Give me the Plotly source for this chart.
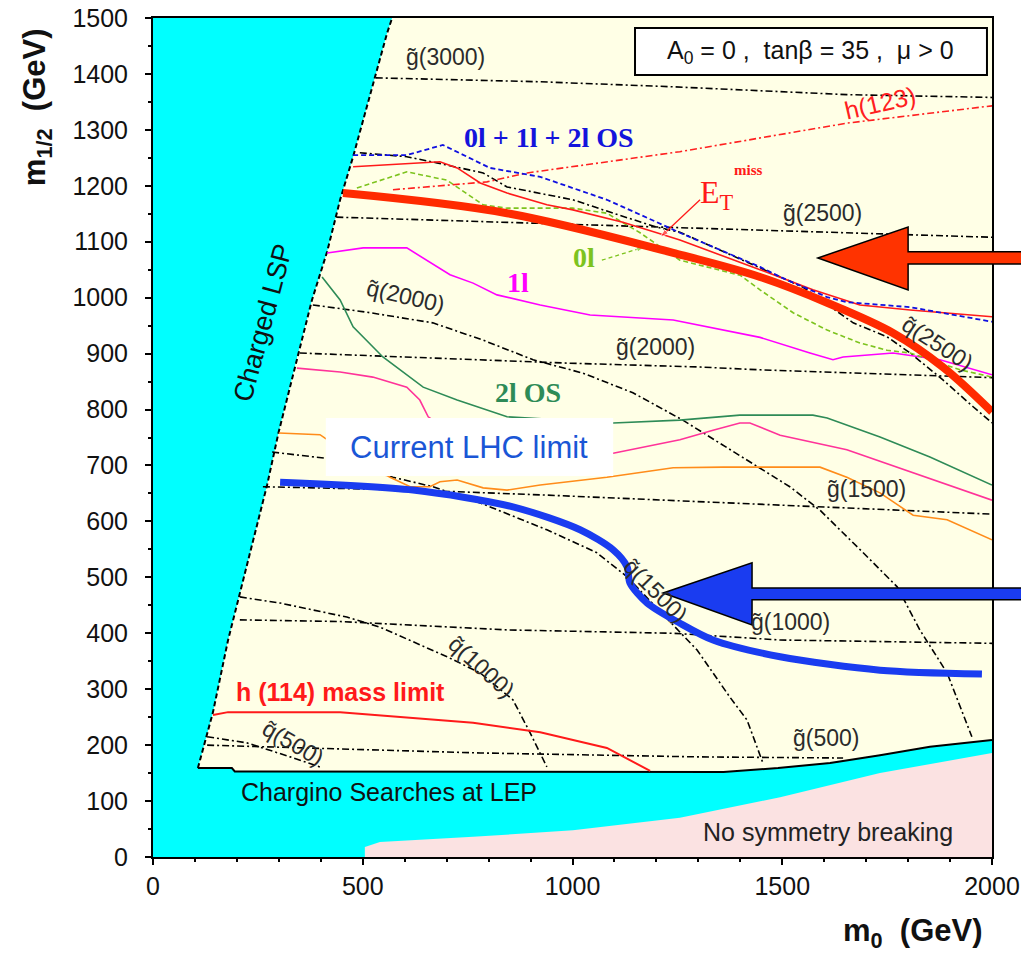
import plotly.graph_objects as go

X_RANGE = [0, 2000]
Y_RANGE = [0, 1500]

# ---- excluded regions -------------------------------------------------
lsp_m0 = [107, 143, 179, 205, 272, 299, 346, 379, 415, 446, 477, 558, 570]
lsp_m12 = [159, 259, 388, 465, 665, 758, 901, 996, 1082, 1175, 1252, 1473, 1500]
lep_m0 = [107, 188, 195, 1000, 1360, 1490, 1614, 1733, 1852, 2000]
lep_m12 = [159, 159, 153, 152, 152, 159, 168, 182, 197, 209]
nosym_m0 = [505, 505, 541, 763, 1001, 1256, 1495, 1733, 2000, 2000]
nosym_m12 = [0, 18, 27, 36, 48, 70, 107, 150, 186, 0]

# ---- sparticle iso-mass contours (GeV) ---------------------------------
g3000_m0 = [531, 922, 1240, 1654, 2000]
g3000_m12 = [1393, 1386, 1377, 1363, 1358]
g2500_m0 = [437, 1240, 1447, 2000]
g2500_m12 = [1144, 1126, 1121, 1108]
g2000_m0 = [350, 667, 987, 1304, 1447, 2000]
g2000_m12 = [901, 892, 883, 876, 871, 857]
g1500_m0 = [262, 620, 939, 1297, 1654, 2000]
g1500_m12 = [662, 656, 647, 635, 624, 613]
g1000_m0 = [207, 446, 844, 1240, 1495, 2000]
g1000_m12 = [424, 421, 406, 400, 388, 382]
g500_m0 = [129, 381, 780, 1297, 1645]
g500_m12 = [200, 195, 186, 179, 177]

q2500_m0 = [493, 605, 677, 787, 844, 1001, 1097, 1201, 1256, 1495, 1549, 1669, 1750, 1805, 1883, 1955, 2000]
q2500_m12 = [1259, 1252, 1241, 1223, 1198, 1175, 1151, 1126, 1117, 1037, 1019, 955, 930, 901, 853, 805, 776]
q2000_m0 = [381, 510, 667, 787, 906, 1025, 1144, 1263, 1518, 1590, 1693, 1774, 1828, 1893, 1952]
q2000_m12 = [987, 974, 955, 924, 889, 865, 830, 781, 662, 620, 544, 483, 406, 329, 215]
q1500_m0 = [284, 410, 572, 667, 780, 939, 1058, 1130, 1297, 1335, 1375, 1416, 1454]
q1500_m12 = [724, 713, 679, 662, 633, 585, 544, 501, 370, 329, 286, 245, 168]
q1000_m0 = [207, 303, 462, 541, 701, 780, 858, 899, 939]
q1000_m12 = [465, 454, 429, 411, 358, 329, 281, 222, 161]
q500_m0 = [129, 224, 327, 398]
q500_m12 = [215, 204, 179, 161]

# ---- search reach curves ------------------------------------------------
met_m0 = [477, 629, 684, 725, 780, 844, 939, 1001, 1120, 1201, 1256, 1447, 1573, 1685, 1805, 2000]
met_m12 = [1234, 1241, 1243, 1232, 1205, 1187, 1166, 1157, 1135, 1116, 1103, 1050, 1014, 987, 978, 966]
comb_m0 = [477, 605, 691, 803, 923, 1082, 1201, 1256, 1447, 1495, 1607, 1654, 1805, 2000]
comb_m12 = [1255, 1255, 1273, 1232, 1216, 1175, 1135, 1116, 1055, 1037, 1001, 992, 983, 957]
h123_m0 = [572, 796, 892, 1256, 1654, 2000]
h123_m12 = [1193, 1207, 1223, 1261, 1312, 1343]
zl_m0 = [486, 605, 701, 787, 844, 1001, 1082, 1161, 1256, 1400, 1447, 1526, 1607, 1685, 1750, 1805, 1924, 2000]
zl_m12 = [1196, 1225, 1210, 1166, 1160, 1160, 1151, 1116, 1067, 1040, 1014, 973, 942, 919, 906, 901, 871, 858]
ol_m0 = [415, 501, 605, 653, 708, 763, 820, 923, 1042, 1240, 1447, 1566, 1621, 1645, 1764, 1876, 2000]
ol_m12 = [1080, 1089, 1089, 1067, 1041, 1026, 1005, 987, 969, 960, 929, 901, 889, 894, 901, 889, 862]
os_m0 = [403, 446, 477, 548, 644, 725, 844, 1097, 1256, 1399, 1573, 1607, 1733, 1852, 2000]
os_m12 = [1037, 996, 948, 894, 840, 817, 787, 776, 781, 790, 790, 785, 751, 715, 665]
pink_m0 = [343, 446, 524, 605, 636, 656, 756, 923, 1097, 1256, 1335, 1399, 1423, 1495, 1654, 1812, 2000]
pink_m12 = [874, 867, 858, 840, 817, 787, 737, 713, 722, 746, 763, 776, 776, 754, 728, 687, 638]
orange_m0 = [300, 398, 410, 493, 565, 613, 660, 684, 725, 787, 844, 923, 1082, 1240, 1359, 1590, 1654, 1733, 1812, 1893, 2000]
orange_m12 = [758, 755, 749, 710, 679, 662, 662, 671, 674, 660, 656, 665, 679, 696, 697, 697, 679, 651, 611, 603, 567]
h114_m0 = [143, 179, 446, 605, 763, 923, 1082, 1185]
h114_m12 = [254, 259, 259, 250, 240, 223, 195, 154]

# ---- highlighted limits ---------------------------------------------------
proj_m0 = [453, 844, 1240, 1447, 1607, 1764, 1883, 2000]
proj_m12 = [1187, 1151, 1080, 1037, 991, 937, 876, 796]
lhc_m0 = [303, 620, 858, 1018, 1097, 1130, 1137, 1178, 1256, 1335, 1495, 1733, 1976]
lhc_m12 = [670, 656, 626, 585, 549, 519, 490, 454, 418, 388, 358, 334, 327]

# label pointers (from label to curve)
met_ptr_m0 = [1304, 1209]
met_ptr_m12 = [1175, 1108]
zl_ptr_m0 = [1070, 1173]
zl_ptr_m12 = [1067, 1091]

CYAN = "#00ffff"
PINK_BG = "#fbe2e2"
ALLOWED = "#ffffe6"
DASHDOT = "7px,3px,2px,3px"
LABEL_GREY = "#2b2b2b"
SANS = "Liberation Sans, Arial, sans-serif"
SERIF = "Liberation Serif, Times New Roman, serif"

fig = go.Figure()

# cyan: charged LSP wedge plus LEP chargino band
cyan_x = [0, 0] + lsp_m0[::-1] + lep_m0[1:] + [2000, 0]
cyan_y = [0, 1500] + lsp_m12[::-1] + lep_m12[1:] + [0, 0]
fig.add_trace(go.Scatter(x=cyan_x, y=cyan_y, fill="toself", fillcolor=CYAN,
                         line=dict(width=0), mode="lines", hoverinfo="skip"))
fig.add_trace(go.Scatter(x=nosym_m0, y=nosym_m12, fill="toself", fillcolor=PINK_BG,
                         line=dict(width=0), mode="lines", hoverinfo="skip"))
fig.add_trace(go.Scatter(x=lsp_m0, y=lsp_m12, mode="lines",
                         line=dict(color="black", width=2, dash="5px,3px")))
fig.add_trace(go.Scatter(x=lep_m0, y=lep_m12, mode="lines",
                         line=dict(color="black", width=2)))


def contour(xs, ys):
    fig.add_trace(go.Scatter(x=xs, y=ys, mode="lines",
                             line=dict(color="black", width=1.6, dash=DASHDOT)))


for xs, ys in [(g3000_m0, g3000_m12), (g2500_m0, g2500_m12), (g2000_m0, g2000_m12),
               (g1500_m0, g1500_m12), (g1000_m0, g1000_m12), (g500_m0, g500_m12),
               (q2500_m0, q2500_m12), (q2000_m0, q2000_m12), (q1500_m0, q1500_m12),
               (q1000_m0, q1000_m12), (q500_m0, q500_m12)]:
    contour(xs, ys)


def reach(xs, ys, color, dash="solid", width=1.6):
    fig.add_trace(go.Scatter(x=xs, y=ys, mode="lines",
                             line=dict(color=color, width=width, dash=dash)))


reach(h114_m0, h114_m12, "#ff1a1a", width=2)
reach(orange_m0, orange_m12, "#ff8c1a")
reach(pink_m0, pink_m12, "#ff3399")
reach(os_m0, os_m12, "#2e8b57")
reach(ol_m0, ol_m12, "#ff00ff")
reach(zl_m0, zl_m12, "#7dc31e", dash="5px,3px")
reach(h123_m0, h123_m12, "#ff2020", dash=DASHDOT)
reach(met_m0, met_m12, "#ff1a1a")
reach(comb_m0, comb_m12, "#1010e0", dash="5px,3px", width=1.8)


def pointer(xs, ys, color, dash="solid"):
    fig.add_trace(go.Scatter(x=xs, y=ys, mode="lines+markers",
                             line=dict(color=color, width=1.3, dash=dash),
                             marker=dict(symbol="arrow", angleref="previous",
                                         size=[0, 9], color=color)))


pointer(met_ptr_m0, met_ptr_m12, "#ff1a1a")
pointer(zl_ptr_m0, zl_ptr_m12, "#7dc31e", dash="4px,3px")

fig.add_trace(go.Scatter(x=proj_m0, y=proj_m12, mode="lines", line_shape="spline",
                         line=dict(color="#ff2a00", width=8, smoothing=1.0)))
fig.add_trace(go.Scatter(x=lhc_m0, y=lhc_m12, mode="lines", line_shape="spline",
                         line=dict(color="#1a3cf0", width=7, smoothing=0.8)))


def paper(m0, m12):
    return ((m0 - X_RANGE[0]) / (X_RANGE[1] - X_RANGE[0]),
            (m12 - Y_RANGE[0]) / (Y_RANGE[1] - Y_RANGE[0]))


def arrow_path(tip_x, base_x, end_x, y_mid, head_top, head_bot, tail_top, tail_bot):
    pts = [(tip_x, y_mid), (base_x, head_top), (base_x, tail_top), (end_x, tail_top),
           (end_x, tail_bot), (base_x, tail_bot), (base_x, head_bot)]
    pp = [paper(a, b) for a, b in pts]
    return "M " + " L ".join(f"{a:.4f},{b:.4f}" for a, b in pp) + " Z"


shapes = [
    # parameter box
    dict(type="rect", xref="x", yref="y", x0=1149, x1=1988, y0=1398, y1=1482,
         fillcolor="white", line=dict(color="black", width=2), layer="above"),
    # label box
    dict(type="rect", xref="x", yref="y", x0=412, x1=1097, y0=681, y1=785,
         fillcolor="white", line=dict(width=0), layer="above"),
    dict(type="path", xref="paper", yref="paper", layer="above",
         path=arrow_path(1585, 1800, 2090, 1071, 1126, 1014, 1082, 1060),
         fillcolor="#ff3300", line=dict(color="black", width=1.5)),
    dict(type="path", xref="paper", yref="paper", layer="above",
         path=arrow_path(1216, 1428, 2090, 472, 526, 415, 481, 460),
         fillcolor="#1a3cf0", line=dict(color="black", width=1.5)),
]

ann = []


def label(x, y, text, size=23, color=LABEL_GREY, family=SANS, angle=0):
    ann.append(dict(x=x, y=y, xref="x", yref="y", text=text, showarrow=False,
                    xanchor="center", yanchor="middle",
                    textangle=angle, font=dict(size=size, color=color, family=family)))


label(698, 1430, "g\u0303(3000)")
label(1597, 1151, "g\u0303(2500)")
label(1199, 912, "g\u0303(2000)")
label(1702, 658, "g\u0303(1500)")
label(1519, 420, "g\u0303(1000)")
label(1604, 213, "g\u0303(500)")
label(1869, 919, "q\u0303(2500)", angle=33)
label(601, 1003, "q\u0303(2000)", angle=13)
label(1197, 477, "q\u0303(1500)", angle=45)
label(784, 340, "q\u0303(1000)", angle=42)
label(334, 204, "q\u0303(500)", angle=30)

label(944, 1287, "<b>0l + 1l + 2l OS</b>", size=28, color="#1414dc", family=SERIF)
label(1733, 1348, "h(123)", size=25, color="#ff2020", angle=-13)
label(1345, 1185, "E<sub>T</sub>", size=32, color="#ff1a1a", family=SERIF)
label(1420, 1228, "<b>miss</b>", size=15, color="#ff1a1a", family=SERIF)
label(1027, 1071, "<b>0l</b>", size=28, color="#7dc31e", family=SERIF)
label(870, 1028, "<b>1l</b>", size=28, color="#ff00ff", family=SERIF)
label(894, 830, "<b>2l OS</b>", size=28, color="#2e8b57", family=SERIF)
label(754, 733, "Current LHC limit", size=31, color="#1a56d6")
label(448, 295, "<b>h (114) mass limit</b>", size=25, color="#ff1a1a")
label(563, 116, "Chargino Searches at LEP", size=25, color="#111111")
label(1609, 45, "No symmetry breaking", size=25, color="#222222")
label(262, 955, "Charged LSP", size=27, color="#111111", angle=-75)
label(1568, 1440, "A<sub>0</sub> = 0 ,  tan\u03b2 = 35 ,  \u03bc > 0", size=25, color="#111111")

# axis titles
ann.append(dict(x=-0.138, y=0.894, xref="paper", yref="paper", showarrow=False, textangle=-90,
                xanchor="center", yanchor="middle",
                text="<b>m<sub>1/2</sub>  (GeV)</b>", font=dict(size=31, color="#111", family=SANS)))
ann.append(dict(x=0.906, y=-0.0906, xref="paper", yref="paper", showarrow=False,
                xanchor="center", yanchor="middle",
                text="<b>m<sub>0</sub>  (GeV)</b>", font=dict(size=31, color="#111", family=SANS)))

axis_common = dict(showgrid=False, zeroline=False, showline=True, mirror=True, automargin=False,
                   linecolor="black", linewidth=2, ticks="outside", ticklen=6, tickwidth=2,
                   tickcolor="black", tickfont=dict(size=25, color="#111", family=SANS))

fig.update_layout(
    width=1021, height=954,
    margin=dict(l=153, r=29, t=18, b=97),
    paper_bgcolor="white", plot_bgcolor=ALLOWED,
    showlegend=False,
    shapes=shapes, annotations=ann,
    xaxis=dict(range=X_RANGE, tickvals=[0, 500, 1000, 1500, 2000],
               minor=dict(dtick=100, ticks="outside", ticklen=3, tickwidth=2, tickcolor="black"),
               **axis_common),
    yaxis=dict(range=Y_RANGE, dtick=100, ticklabelstandoff=12,
               minor=dict(dtick=50, ticks="outside", ticklen=3, tickwidth=2, tickcolor="black"),
               **axis_common),
)

fig.write_html("out.html")
